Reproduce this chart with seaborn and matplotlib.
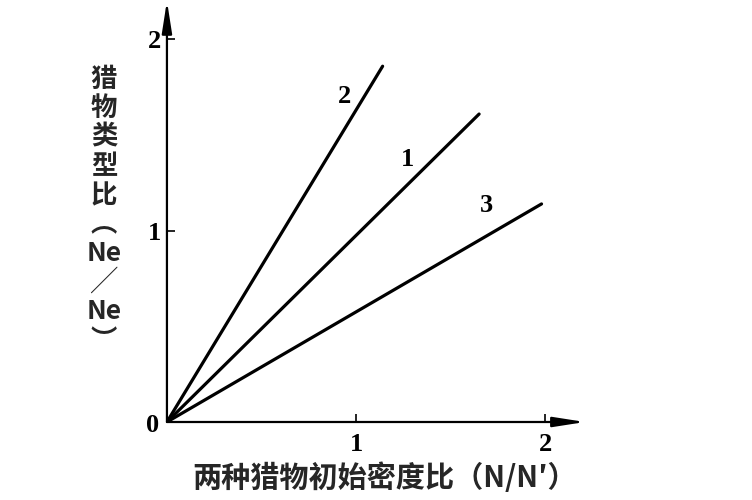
import matplotlib
matplotlib.use("Agg")
import matplotlib.pyplot as plt
import seaborn as sns
import pandas as pd

# Data: each line starts at the origin
line_ids = ["1", "2", "3"]
x_end = [1.65, 1.14, 1.98]
y_end = [1.61, 1.86, 1.14]
label_x = [1.27, 0.94, 1.69]
label_y = [1.37, 1.70, 1.13]
x_ticks = [1, 2]
y_ticks = [1, 2]
x_title = "两种猎物初始密度比（N/N′）"
y_title = "猎\n物\n类\n型\n比\n︵\nNe\n╱\nNe\n︶"

rows = []
for lid, xe, ye in zip(line_ids, x_end, y_end):
    rows.append({"line": lid, "x": 0.0, "y": 0.0})
    rows.append({"line": lid, "x": xe, "y": ye})
df = pd.DataFrame(rows)

sns.set_theme(style="white")
plt.rcParams['font.family'] = ['Liberation Serif', 'Noto Sans CJK SC', 'DejaVu Sans']

fig = plt.figure(figsize=(7.52, 5.0), dpi=100)
ax = fig.add_axes([0.222, 0.156, 0.556, 0.834])

sns.lineplot(data=df, x="x", y="y", units="line", estimator=None,
             color="black", linewidth=2.3, ax=ax, legend=False)

ax.set_xlim(0, 2.21)
ax.set_ylim(0, 2.18)
for s in ax.spines.values():
    s.set_visible(False)

# axes with arrows
arrow = dict(arrowstyle="-|>,head_length=1.6,head_width=0.25", color="black", lw=1.6,
             shrinkA=0, shrinkB=0)
ax.annotate("", xy=(1.0, 0), xytext=(0, 0), xycoords="axes fraction",
            textcoords="axes fraction", arrowprops=arrow, annotation_clip=False)
ax.annotate("", xy=(0, 1.01), xytext=(0, 0), xycoords="axes fraction",
            textcoords="axes fraction", arrowprops=arrow, annotation_clip=False)

ax.set_xticks(x_ticks)
ax.set_yticks(y_ticks)
ax.set_xticklabels([str(v) for v in x_ticks], fontweight="bold")
ax.set_yticklabels([str(v) for v in y_ticks], fontweight="bold")
ax.tick_params(axis="both", direction="in", length=6, width=1.2, color="black",
               labelsize=19, labelcolor="black", bottom=True, left=True)
ax.tick_params(axis="x", pad=8)
ax.tick_params(axis="y", pad=4)
ax.text(-0.04, -0.02, "0", fontsize=19, fontweight="bold", ha="right", va="center",
        color="black")

for lid, lx, ly in zip(line_ids, label_x, label_y):
    ax.text(lx, ly, lid, fontsize=19, fontweight="bold", ha="center", va="center",
            color="black")

ax.set_xlabel("")
ax.set_ylabel("")
fig.text(385 / 752, 1 - 478 / 500, x_title, fontsize=21, fontweight="bold",
         ha="center", va="center", family=['Noto Sans CJK SC', 'DejaVu Sans'])
fig.text(104 / 752, 1 - 210 / 500, y_title, fontsize=19, fontweight="bold",
         ha="center", va="center", linespacing=1.1,
         family=['Noto Sans CJK SC', 'DejaVu Sans'])

fig.savefig("out.png", dpi=100)
